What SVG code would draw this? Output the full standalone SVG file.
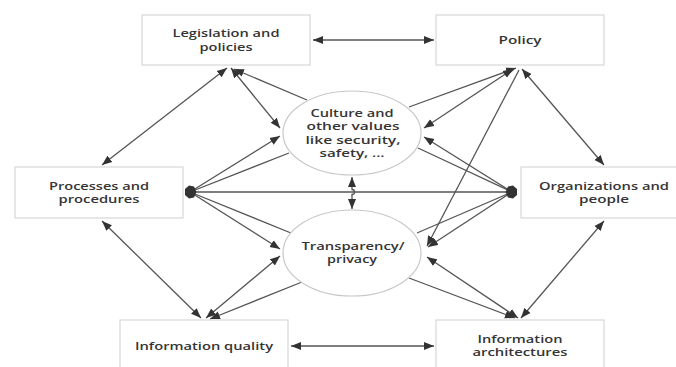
<svg xmlns="http://www.w3.org/2000/svg" width="676" height="367" viewBox="0 0 676 367">
<defs>
<style>
.box{fill:#ffffff;stroke:#cfcfcf;stroke-width:1}
.circ{fill:#ffffff;stroke:#c8c8c8;stroke-width:1.2}
.t{font-family:"Open Sans","Liberation Sans",sans-serif;font-size:10px;font-weight:600;fill:#353535;text-anchor:middle}
.c{fill:none;stroke:#555555;stroke-width:1.3}
.blob{fill:#333333}
</style>
<marker id="ah" markerUnits="userSpaceOnUse" markerWidth="11" markerHeight="9" refX="10" refY="4" orient="auto-start-reverse" viewBox="0 0 11 8">
<path d="M0,0 L10,4 L0,8 z" fill="#333333"/>
</marker>
</defs>
<rect x="0" y="0" width="676" height="367" fill="#ffffff"/>

<g id="connectors">
<line class="c" x1="313" y1="40" x2="434" y2="40" marker-start="url(#ah)" marker-end="url(#ah)"/>
<line class="c" x1="291" y1="346" x2="434" y2="346" marker-start="url(#ah)" marker-end="url(#ah)"/>
<line class="c" x1="227" y1="68" x2="102" y2="165" marker-start="url(#ah)" marker-end="url(#ah)"/>
<line class="c" x1="231" y1="68" x2="280" y2="128" marker-start="url(#ah)" marker-end="url(#ah)"/>
<line class="c" x1="307" y1="100" x2="234" y2="69" marker-end="url(#ah)"/>
<line class="c" x1="190" y1="192" x2="280" y2="136" marker-end="url(#ah)"/>
<line class="c" x1="289" y1="153" x2="190" y2="192"/>
<line class="c" x1="190" y1="192" x2="512" y2="192"/>
<line class="c" x1="190" y1="192" x2="280" y2="249" marker-end="url(#ah)"/>
<line class="c" x1="291" y1="233" x2="190" y2="192"/>
<line class="c" x1="102" y1="221" x2="201" y2="318" marker-start="url(#ah)" marker-end="url(#ah)"/>
<line class="c" x1="206" y1="318" x2="280" y2="256" marker-start="url(#ah)" marker-end="url(#ah)"/>
<line class="c" x1="302" y1="282" x2="210" y2="319" marker-end="url(#ah)"/>
<line class="c" x1="522" y1="69" x2="604" y2="165" marker-start="url(#ah)" marker-end="url(#ah)"/>
<line class="c" x1="409" y1="107" x2="516" y2="68" marker-end="url(#ah)"/>
<line class="c" x1="513" y1="69" x2="424" y2="128" marker-start="url(#ah)" marker-end="url(#ah)"/>
<line class="c" x1="519" y1="70" x2="427" y2="246" marker-end="url(#ah)"/>
<line class="c" x1="512" y1="192" x2="424" y2="137" marker-end="url(#ah)"/>
<line class="c" x1="418" y1="148" x2="512" y2="192"/>
<line class="c" x1="512" y1="192" x2="428" y2="247" marker-end="url(#ah)"/>
<line class="c" x1="417" y1="233" x2="512" y2="192"/>
<line class="c" x1="518" y1="318" x2="427" y2="257" marker-start="url(#ah)" marker-end="url(#ah)"/>
<line class="c" x1="409" y1="278" x2="515" y2="318" marker-end="url(#ah)"/>
<line class="c" x1="604" y1="221" x2="521" y2="318" marker-start="url(#ah)" marker-end="url(#ah)"/>
<path class="c" d="M352,177 L352,189.5 A2.5,2.5 0 0 1 352,194.5 L352,209" marker-start="url(#ah)" marker-end="url(#ah)"/>
<polygon class="blob" points="185,189 189,185.5 194,186.5 196.5,192 194,197.5 189,198.5 185,195"/>
<polygon class="blob" points="517,189 513,185.5 508,186.5 505.5,192 508,197.5 513,198.5 517,195"/>
</g>

<g id="legislation">
<rect class="box" x="142" y="15" width="168" height="50"/>
<text class="t" x="226" y="37" textLength="107" lengthAdjust="spacingAndGlyphs">Legislation and</text>
<text class="t" x="226" y="50.5" textLength="53" lengthAdjust="spacingAndGlyphs">policies</text>
</g>
<g id="policy">
<rect class="box" x="436" y="15" width="168" height="50"/>
<text class="t" x="520" y="44" textLength="43" lengthAdjust="spacingAndGlyphs">Policy</text>
</g>
<g id="processes">
<rect class="box" x="15" y="167" width="168" height="51"/>
<text class="t" x="99" y="189.5" textLength="100" lengthAdjust="spacingAndGlyphs">Processes and</text>
<text class="t" x="99" y="203" textLength="81" lengthAdjust="spacingAndGlyphs">procedures</text>
</g>
<g id="organizations">
<rect class="box" x="521" y="167" width="168" height="51"/>
<text class="t" x="604" y="189.5" textLength="130" lengthAdjust="spacingAndGlyphs">Organizations and</text>
<text class="t" x="604" y="203" textLength="50" lengthAdjust="spacingAndGlyphs">people</text>
</g>
<g id="info-quality">
<rect class="box" x="120" y="320" width="168" height="52"/>
<text class="t" x="204" y="349.5" textLength="138" lengthAdjust="spacingAndGlyphs">Information quality</text>
</g>
<g id="info-architectures">
<rect class="box" x="436" y="320" width="168" height="52"/>
<text class="t" x="520" y="342.5" textLength="85" lengthAdjust="spacingAndGlyphs">Information</text>
<text class="t" x="520" y="356" textLength="95" lengthAdjust="spacingAndGlyphs">architectures</text>
</g>
<g id="culture">
<ellipse class="circ" cx="352" cy="133" rx="69" ry="42"/>
<text class="t" x="352" y="116.5" textLength="83" lengthAdjust="spacingAndGlyphs">Culture and</text>
<text class="t" x="353" y="130" textLength="93" lengthAdjust="spacingAndGlyphs">other values</text>
<text class="t" x="353" y="143.5" textLength="95" lengthAdjust="spacingAndGlyphs">like security,</text>
<text class="t" x="352" y="157" textLength="65" lengthAdjust="spacingAndGlyphs">safety, ...</text>
</g>
<g id="transparency">
<ellipse class="circ" cx="352" cy="253" rx="69" ry="43"/>
<text class="t" x="353" y="249.5" textLength="103" lengthAdjust="spacingAndGlyphs">Transparency/</text>
<text class="t" x="352" y="263" textLength="50" lengthAdjust="spacingAndGlyphs">privacy</text>
</g>
</svg>
